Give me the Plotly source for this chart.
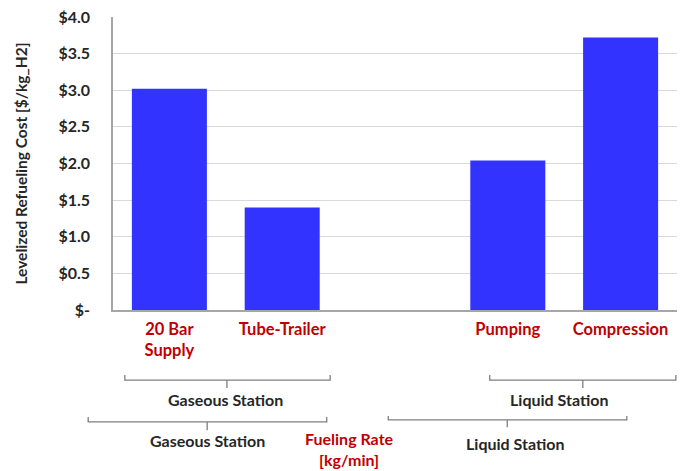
import plotly.graph_objects as go

categories = ["20 Bar<br>Supply", "Tube-Trailer", "", "Pumping", "Compression"]
positions = [0, 1, 2, 3, 4]
costs = [3.02, 1.40, None, 2.04, 3.72]
y_ticks = [0, 0.5, 1.0, 1.5, 2.0, 2.5, 3.0, 3.5, 4.0]
y_tick_labels = ["$-", "$0.5", "$1.0", "$1.5", "$2.0", "$2.5", "$3.0", "$3.5", "$4.0"]

FONT = "Lato"
RED = "#C00000"
DARK = "#262626"
GRAY = "#7F7F7F"

fig = go.Figure()
fig.add_trace(go.Bar(x=positions, y=costs, marker=dict(color="#3333FF", line=dict(width=0)),
                     width=0.665))

fig.update_layout(
    width=683, height=471,
    margin=dict(l=113, r=6, t=17, b=161),
    paper_bgcolor="white", plot_bgcolor="white",
    showlegend=False,
    font=dict(family=FONT, color=DARK),
)
fig.update_xaxes(
    range=[-0.5, 4.5], tickvals=positions, ticktext=categories,
    tickfont=dict(family=FONT, size=16.5, color=RED, weight="bold"),
    ticks="outside", ticklen=3, tickcolor="rgba(0,0,0,0)",
    showline=True, linecolor="#A6A6A6", linewidth=1.5, showgrid=False, zeroline=False,
)
fig.update_yaxes(
    range=[0, 4.0], tickvals=y_ticks, ticktext=y_tick_labels,
    tickfont=dict(family=FONT, size=16, color=DARK, weight="bold"),
    ticks="outside", ticklen=18, tickcolor="rgba(0,0,0,0)",
    showline=True, linecolor="#A6A6A6", linewidth=1.5,
    showgrid=True, gridcolor="#D9D9D9", gridwidth=1, zeroline=False,
    title=dict(text="Levelized Refueling Cost [$/kg_H2]", standoff=27,
               font=dict(family=FONT, size=15.5, color=DARK, weight="bold")),
)

# brackets (paper coords)
def bracket(x0, x1, xc, yline, yend, ytick):
    fig.add_shape(type="path", xref="paper", yref="paper",
                  path=f"M {x0},{yend} L {x0},{yline} L {x1},{yline} L {x1},{yend}",
                  line=dict(color=GRAY, width=1.3))
    fig.add_shape(type="line", xref="paper", yref="paper", x0=xc, x1=xc, y0=yline, y1=ytick,
                  line=dict(color=GRAY, width=1.3))

bracket(0.021, 0.385, 0.202, -0.239, -0.222, -0.266)
bracket(0.668, 0.998, 0.833, -0.239, -0.222, -0.266)
bracket(-0.044, 0.379, 0.167, -0.382, -0.365, -0.41)
bracket(0.488, 0.911, 0.699, -0.375, -0.362, -0.40)

def label(x, y, text, color=DARK):
    fig.add_annotation(xref="paper", yref="paper", x=x, y=y, text=text, showarrow=False,
                       xanchor="center", yanchor="middle",
                       font=dict(family=FONT, size=16, color=color, weight="bold"))

label(0.199, -0.307, "Gaseous Station")
label(0.791, -0.307, "Liquid Station")
label(0.167, -0.447, "Gaseous Station")
label(0.713, -0.457, "Liquid Station")
label(0.419, -0.474, "Fueling Rate<br>[kg/min]", RED)

fig.write_html("out.html", post_script="document.body.style.margin='0';",
               config={"displayModeBar": False})
